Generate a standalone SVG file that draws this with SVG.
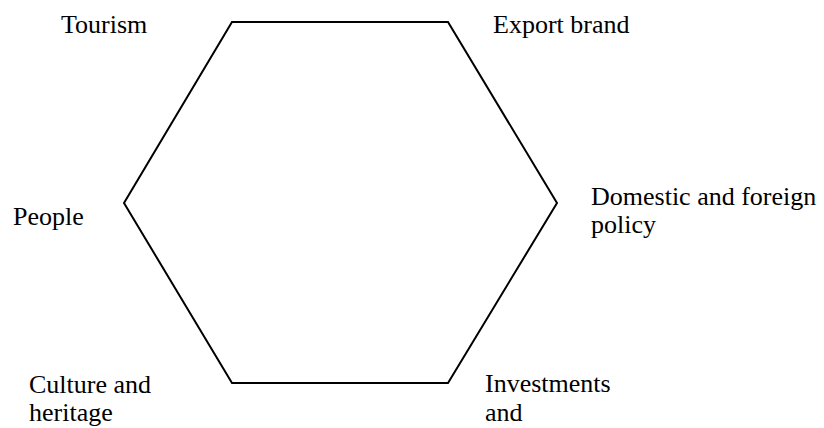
<svg xmlns="http://www.w3.org/2000/svg" width="824" height="428" viewBox="0 0 824 428">
<style>
.lbl{font-family:"Liberation Serif","Times New Roman",serif;font-size:26px;fill:#000}
.hex{fill:none;stroke:#000;stroke-width:2;stroke-linejoin:miter}
</style>
<rect width="824" height="428" fill="#fff"/>
<g id="hexagon">
<polygon class="hex" points="232,22 448,22 557,203 448,383 232,383 124,203"/>
</g>
<g id="connectors"></g>
<g id="tourism"><text class="lbl" x="61" y="33">Tourism</text></g>
<g id="export-brand"><text class="lbl" x="493" y="33">Export brand</text></g>
<g id="people"><text class="lbl" x="13" y="225">People</text></g>
<g id="domestic-foreign-policy"><text class="lbl" x="591" y="205">Domestic and foreign</text><text class="lbl" x="591" y="233">policy</text></g>
<g id="culture-heritage"><text class="lbl" x="29" y="393">Culture and</text><text class="lbl" x="29" y="421">heritage</text></g>
<g id="investments"><text class="lbl" x="485" y="392">Investments</text><text class="lbl" x="485" y="421">and</text></g>
</svg>
